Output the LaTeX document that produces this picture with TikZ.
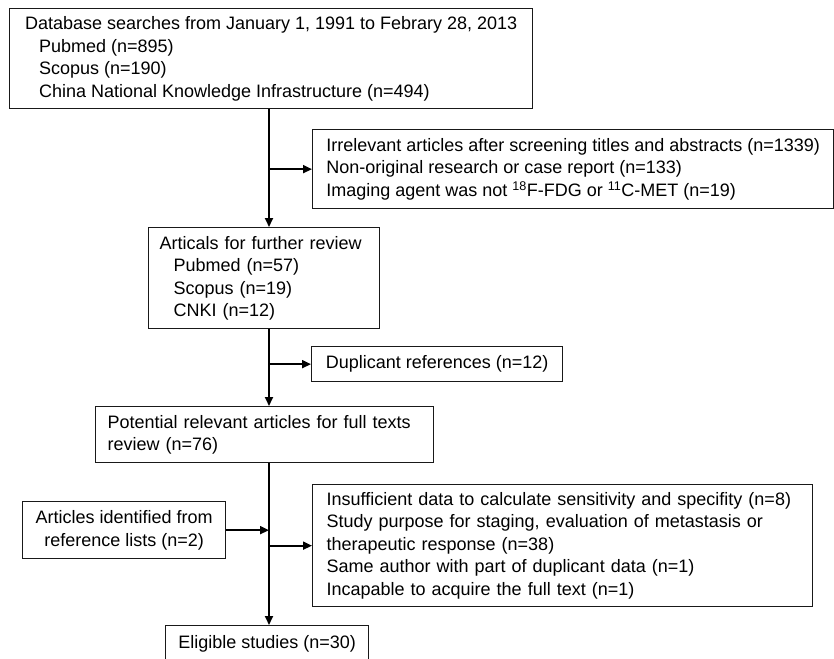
\documentclass[tikz,border=0pt]{standalone}
\usepackage{fontspec}
\setmainfont{Liberation Sans}
\usetikzlibrary{arrows.meta}
\tikzset{
  box/.style={draw=black!90, line width=1.3pt, anchor=north west, inner sep=0pt,
    font=\fontsize{18}{22.5}\selectfont},
  conn/.style={draw=black, line width=1.8pt},
  arr/.style={conn, -{Triangle[length=9pt,width=8pt]}}
}
\newcommand{\ind}{\hspace*{14pt}}
\begin{document}
\begin{tikzpicture}[x=1pt,y=-1pt]
\useasboundingbox (0,0) rectangle (834,658);
\coordinate (mx) at (269,0);

\node[box, align=left, minimum width=523pt, minimum height=100pt] (b1) at (9,8)
  {Database searches from January 1, 1991 to Febrary 28, 2013\\
   \ind Pubmed (n=895)\\
   \ind Scopus (n=190)\\
   \ind China National Knowledge Infrastructure (n=494)};

\node[box, align=left, minimum width=521pt, minimum height=79pt] (b2) at (312,129)
  {Irrelevant articles after screening titles and abstracts (n=1339)\\
   Non-original research or case report (n=133)\\
   Imaging agent was not \textsuperscript{18}F-FDG or \textsuperscript{11}C-MET (n=19)};

\node[box, align=left, minimum width=231pt, minimum height=101pt, inner xsep=11pt, text width=209pt] (b3) at (148,227)
  {Articals for further review\\
   \ind Pubmed (n=57)\\
   \ind Scopus (n=19)\\
   \ind CNKI (n=12)};

\node[box, minimum width=251pt, minimum height=35pt] (dup) at (311,346)
  {Duplicant references (n=12)};

\node[box, align=left, minimum height=56pt, inner xsep=12pt, text width=314pt] (b4) at (95,406)
  {Potential relevant articles for full texts\\
   review (n=76)};

\node[box, align=center, minimum width=203pt, minimum height=57pt] (b5) at (22,501)
  {Articles identified from\\
   reference lists (n=2)};

\node[box, align=left, minimum width=500pt, minimum height=122pt, inner xsep=14pt, text width=472pt] (b6) at (312,484)
  {Insufficient data to calculate sensitivity and specifity (n=8)\\
   Study purpose for staging, evaluation of metastasis or\\
   therapeutic response (n=38)\\
   Same author with part of duplicant data (n=1)\\
   Incapable to acquire the full text (n=1)};

\node[box, minimum width=203pt, minimum height=36pt] (b7) at (165,625)
  {Eligible studies (n=30)};

\draw[arr] (b1.south -| mx) -- (b3.north -| mx);
\draw[arr] (mx |- b2.west) -- (b2.west);
\draw[arr] (b3.south -| mx) -- (b4.north -| mx);
\draw[arr] (mx |- dup.west) -- (dup.west);
\draw[arr] (b4.south -| mx) -- (b7.north -| mx);
\draw[arr] (b5.east) -- (mx |- b5.east);
\draw[arr] (mx |- b6.west) -- (b6.west);
\end{tikzpicture}
\end{document}
